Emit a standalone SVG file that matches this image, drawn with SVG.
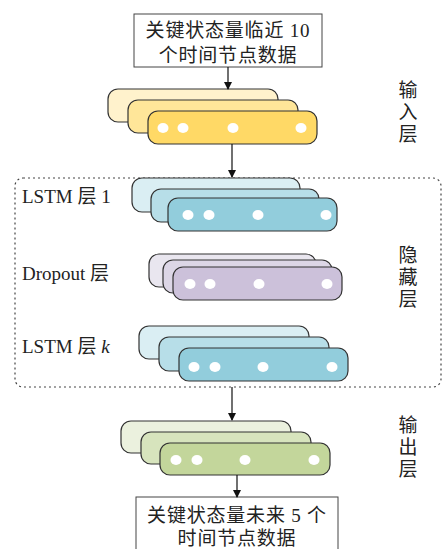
<svg xmlns="http://www.w3.org/2000/svg" width="444" height="549" viewBox="0 0 444 549">
<defs>
<style>
text{font-family:"Liberation Serif","Noto Sans CJK SC",serif;font-size:19px;fill:#222}
.bt{text-anchor:middle;letter-spacing:0.8px}
.box{fill:#fff;stroke:#444;stroke-width:1}
.l{stroke:#333;stroke-width:1.2;rx:10}
.dot{fill:#fff}
.conn{stroke:#111;stroke-width:1.2;fill:none}
.vt{text-anchor:middle}
</style>
<marker id="ah" markerWidth="8" markerHeight="8" refX="7" refY="4" orient="auto" markerUnits="userSpaceOnUse">
<path d="M0,0 L8,4 L0,8 Z" fill="#111"/>
</marker>
</defs>
<rect width="444" height="549" fill="#fff"/>

<g id="input-box">
<rect class="box" x="134" y="14" width="188" height="53"/>
<text class="bt" x="228" y="37">关键状态量临近 10</text>
<text class="bt" x="228" y="62">个时间节点数据</text>
</g>

<g id="input-layer">
<rect class="l" x="108" y="89" width="170" height="33" fill="#FFF2CC"/>
<rect class="l" x="128" y="100" width="170" height="33" fill="#FFE699"/>
<rect class="l" x="148" y="111" width="169" height="33" fill="#FFD966"/>
<ellipse class="dot" cx="163" cy="128" rx="5.5" ry="5"/>
<ellipse class="dot" cx="183" cy="128" rx="5.5" ry="5"/>
<ellipse class="dot" cx="233" cy="128" rx="5.5" ry="5"/>
<ellipse class="dot" cx="301" cy="128" rx="5.5" ry="5"/>
<text class="vt" x="408" y="97">输</text>
<text class="vt" x="408" y="119">入</text>
<text class="vt" x="408" y="141">层</text>
</g>

<g id="hidden-layer">
<rect x="15" y="178" width="426" height="209" rx="8" fill="none" stroke="#444" stroke-width="1.2" stroke-dasharray="2 3"/>
<text class="vt" x="408" y="262">隐</text>
<text class="vt" x="408" y="284">藏</text>
<text class="vt" x="408" y="306">层</text>
</g>

<g id="lstm1">
<rect class="l" x="132" y="178" width="168" height="34" fill="#DAEEF3"/>
<rect class="l" x="151" y="189" width="168" height="33" fill="#B7DEE8"/>
<rect class="l" x="168" y="198" width="169" height="33" fill="#92CDDC"/>
<ellipse class="dot" cx="188" cy="215" rx="5.5" ry="5"/>
<ellipse class="dot" cx="209" cy="215" rx="5.5" ry="5"/>
<ellipse class="dot" cx="258" cy="215" rx="5.5" ry="5"/>
<ellipse class="dot" cx="326" cy="215" rx="5.5" ry="5"/>
<text x="22" y="203">LSTM 层 1</text>
</g>

<g id="dropout">
<rect class="l" x="149" y="254" width="167" height="33" fill="#E9E6EF"/>
<rect class="l" x="163" y="260" width="169" height="33" fill="#DCD6E6"/>
<rect class="l" x="173" y="267" width="169" height="33" fill="#CCC1DA"/>
<ellipse class="dot" cx="190" cy="284" rx="5.5" ry="5"/>
<ellipse class="dot" cx="210" cy="284" rx="5.5" ry="5"/>
<ellipse class="dot" cx="259" cy="284" rx="5.5" ry="5"/>
<ellipse class="dot" cx="327" cy="284" rx="5.5" ry="5"/>
<text x="22" y="280">Dropout 层</text>
</g>

<g id="lstmk">
<rect class="l" x="139" y="326" width="170" height="33" fill="#DAEEF3"/>
<rect class="l" x="159" y="337" width="170" height="34" fill="#B7DEE8"/>
<rect class="l" x="179" y="348" width="169" height="33" fill="#92CDDC"/>
<ellipse class="dot" cx="194" cy="367" rx="5.5" ry="5"/>
<ellipse class="dot" cx="215" cy="367" rx="5.5" ry="5"/>
<ellipse class="dot" cx="263" cy="367" rx="5.5" ry="5"/>
<ellipse class="dot" cx="332" cy="367" rx="5.5" ry="5"/>
<text x="22" y="353">LSTM 层 <tspan font-style="italic">k</tspan></text>
</g>

<g id="output-layer">
<rect class="l" x="121" y="421" width="170" height="32" fill="#EBF1DE"/>
<rect class="l" x="141" y="432" width="170" height="32" fill="#D7E4BD"/>
<rect class="l" x="160" y="443" width="170" height="32" fill="#C3D69B"/>
<ellipse class="dot" cx="176" cy="460" rx="5.5" ry="5"/>
<ellipse class="dot" cx="197" cy="460" rx="5.5" ry="5"/>
<ellipse class="dot" cx="245" cy="460" rx="5.5" ry="5"/>
<ellipse class="dot" cx="314" cy="460" rx="5.5" ry="5"/>
<text class="vt" x="408" y="432">输</text>
<text class="vt" x="408" y="454">出</text>
<text class="vt" x="408" y="476">层</text>
</g>

<g id="output-box">
<rect class="box" x="136" y="497" width="202" height="60"/>
<text class="bt" x="237" y="522">关键状态量未来 5 个</text>
<text class="bt" x="237" y="545">时间节点数据</text>
</g>

<g id="connectors">
<line class="conn" x1="228" y1="67" x2="228" y2="89" marker-end="url(#ah)"/>
<line class="conn" x1="232" y1="144" x2="232" y2="177" marker-end="url(#ah)"/>
<line class="conn" x1="232" y1="387" x2="232" y2="420" marker-end="url(#ah)"/>
<line class="conn" x1="237" y1="475" x2="237" y2="497" marker-end="url(#ah)"/>
</g>
</svg>
